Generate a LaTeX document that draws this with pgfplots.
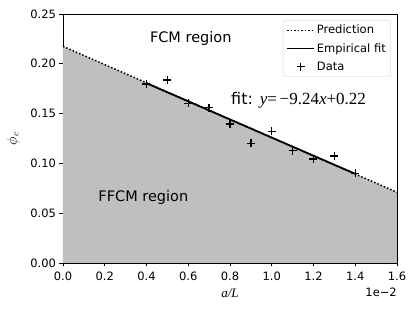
\documentclass[border=0pt]{standalone}
\usepackage{fontspec}
\setmainfont{DejaVu Sans}
\newfontfamily\serifit{Liberation Serif}
\usepackage{pgfplots}
\pgfplotsset{compat=1.18}
\definecolor{fillgray}{HTML}{BFBFBF}
\definecolor{legedge}{HTML}{CCCCCC}
\pgfplotsset{
  predline/.style={legend image code/.code={\draw[##1, black, dotted, line width=1.5pt] (0pt,0pt) -- (27pt,0pt);}},
  fitline/.style={legend image code/.code={\draw[##1, black, solid, line width=1.8pt] (0pt,0pt) -- (27pt,0pt);}},
  midmark/.style={legend image code/.code={\draw[mark repeat=2,mark phase=2,##1] plot coordinates {(0pt,0pt) (13.5pt,0pt) (27pt,0pt)};}},
}
\begin{document}
\begin{tikzpicture}[x=1pt,y=1pt]
\begin{axis}[
  scale only axis,
  width=334pt, height=249pt,
  xmin=0, xmax=1.6, ymin=0, ymax=0.25,
  xtick={0,0.2,...,1.6},
  ytick={0,0.05,...,0.25},
  tick align=outside,
  major tick length=3.5pt,
  tick style={black, line width=0.8pt},
  axis line style={line width=0.8pt},
  xtick pos=bottom, ytick pos=left,
  ticklabel style={font=\fontsize{11.5}{13}\selectfont},
  /pgf/number format/assume math mode=true,
  xticklabel style={yshift=-2pt, /pgf/number format/.cd, fixed, fixed zerofill, precision=1},
  yticklabel style={/pgf/number format/.cd, fixed, fixed zerofill, precision=2},
  scaled x ticks=false,
  xlabel={\serifit\itshape a/L},
  ylabel={$\phi_c$},
  xlabel style={font=\fontsize{13}{15}\selectfont, at={(axis description cs:0.5,-0.12)}, anchor=center},
  ylabel style={font=\fontsize{14}{16}\selectfont, at={(axis description cs:-0.15,0.5)}, anchor=center},
  legend style={at={(rel axis cs:0.982,0.976)}, anchor=north east,
    draw=legedge, fill=white, fill opacity=0.8, text opacity=1,
    rounded corners=2pt, font=\fontsize{11.5}{13}\selectfont,
    inner xsep=3pt, inner ysep=3pt, row sep=4pt},
  legend cell align=left,
  clip=false,
]
\addplot[fill=fillgray, draw=none, forget plot] coordinates {(0,0) (0,0.2175) (1.6,0.071) (1.6,0)} -- cycle;
\addplot[black, dotted, line width=1.5pt, predline] coordinates {(0,0.2175) (1.6,0.071)};
\addlegendentry{Prediction}
\addplot[black, line width=1.8pt, fitline] coordinates {(0.4,0.1805) (1.4,0.0895)};
\addlegendentry{Empirical fit}
\addplot[black, only marks, mark=+, mark size=4pt, line width=1.4pt, midmark] coordinates {
  (0.4,0.1797) (0.5,0.1837) (0.6,0.1603) (0.7,0.1559) (0.8,0.1396)
  (0.9,0.1202) (1.0,0.1322) (1.1,0.1128) (1.2,0.1044) (1.3,0.1074) (1.4,0.0901)};
\addlegendentry{Data}
\node[anchor=west, font=\fontsize{14.5}{16}\selectfont] at (axis cs:0.40,0.225) {FCM region};
\node[anchor=west, font=\fontsize{14.5}{16}\selectfont] at (axis cs:0.153,0.066) {FFCM region};
\node[anchor=base west, font=\fontsize{16}{18}\selectfont, inner sep=0pt] at (axis cs:0.805,0.159) {fit: {\serifit\fontsize{17}{19}\selectfont\itshape y}{\serifit\fontsize{17}{19}\selectfont =\,−9.24}{\serifit\fontsize{17}{19}\selectfont\itshape x}{\serifit\fontsize{17}{19}\selectfont +0.22}};
\node[anchor=east, font=\fontsize{11.5}{13}\selectfont, inner sep=0pt] at ([yshift=-29pt]rel axis cs:1,0) {1e−2};
\end{axis}
\pgfresetboundingbox
\path (-63pt,-47pt) rectangle (353pt,263pt);
\end{tikzpicture}
\end{document}
